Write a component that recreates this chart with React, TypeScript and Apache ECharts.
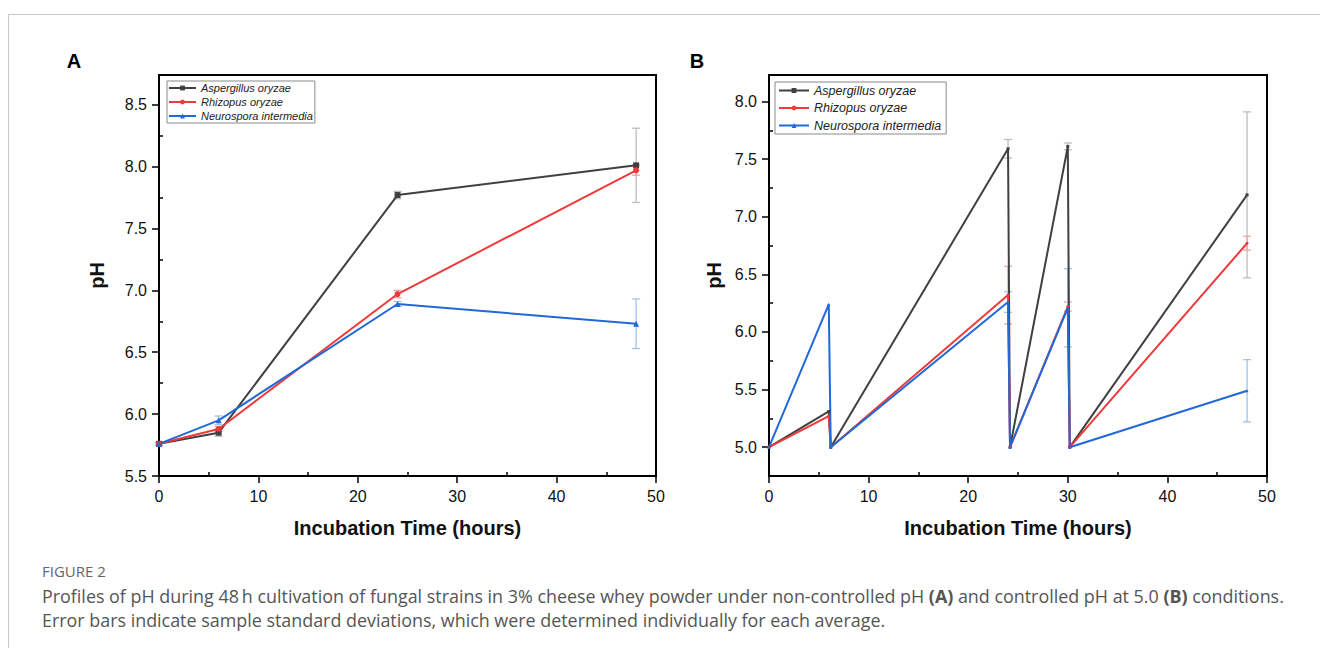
import React, { useEffect, useRef } from 'react';
import * as echarts from 'echarts';

const seriesNames = ['Aspergillus oryzae', 'Rhizopus oryzae', 'Neurospora intermedia'];
const lineColors = ['#404040', '#ee3a3a', '#2168d8'];
const errColors = ['#bdbdbd', '#f2a5a5', '#a0c2ee'];
const symbols = ['rect', 'circle', 'triangle'];

// Panel A: non-controlled pH
const timeA = [0, 6, 24, 48];
const aspA = [5.76, 5.85, 7.77, 8.01];
const aspAErr = [0.01, 0.03, 0.03, 0.3];
const rhiA = [5.76, 5.88, 6.97, 7.97];
const rhiAErr = [0.01, 0.02, 0.03, 0.04];
const neuA = [5.76, 5.95, 6.89, 6.73];
const neuAErr = [0.01, 0.035, 0.02, 0.2];

// Panel B: controlled pH at 5.0
const timeB = [0, 6, 6.2, 24, 24.2, 30, 30.2, 48];
const aspB = [5.0, 5.31, 5.0, 7.59, 5.0, 7.61, 5.0, 7.19];
const aspBErr = [0, 0, 0, 0.08, 0, 0.03, 0, 0.72];
const rhiB = [5.0, 5.27, 5.0, 6.32, 5.0, 6.22, 5.0, 6.77];
const rhiBErr = [0, 0, 0, 0.25, 0, 0.04, 0, 0.06];
const neuB = [5.0, 6.24, 5.0, 6.26, 5.0, 6.21, 5.0, 5.49];
const neuBErr = [0, 0, 0, 0.09, 0, 0.34, 0, 0.27];

const xMinorTicks = [5, 15, 25, 35, 45];
const yTicksA = [5.5, 6.0, 6.5, 7.0, 7.5, 8.0, 8.5];
const yMinorA = [5.75, 6.25, 6.75, 7.25, 7.75, 8.25];
const yTicksB = [5.0, 5.5, 6.0, 6.5, 7.0, 7.5, 8.0];
const yMinorB = [5.25, 5.75, 6.25, 6.75, 7.25, 7.75];

const FONT = '"Liberation Sans", Arial, sans-serif';
const CAP_FONT = '"Open Sans", sans-serif';

function lineSeries(name: string, xs: number[], ys: number[], idx: number, axis: number, size: number) {
  return {
    type: 'line',
    name,
    xAxisIndex: axis,
    yAxisIndex: axis,
    data: xs.map((x, i) => [x, ys[i]]),
    symbol: symbols[idx],
    symbolSize: size,
    showSymbol: true,
    lineStyle: { color: lineColors[idx], width: 2 },
    itemStyle: { color: lineColors[idx] },
    z: 3,
  };
}

function errSeries(xs: number[], ys: number[], es: number[], idx: number, axis: number) {
  const color = errColors[idx];
  return {
    type: 'custom',
    xAxisIndex: axis,
    yAxisIndex: axis,
    silent: true,
    z: 2,
    encode: { x: 0, y: 1 },
    data: xs.map((x, i) => [x, ys[i], es[i]]).filter((d) => d[2] > 0),
    renderItem: (_p: any, api: any) => {
      const x = api.value(0);
      const y = api.value(1);
      const e = api.value(2);
      const t = api.coord([x, y + e]);
      const b = api.coord([x, y - e]);
      const w = 4;
      const st = { stroke: color, lineWidth: 1.3 };
      return {
        type: 'group',
        children: [
          { type: 'line', shape: { x1: t[0], y1: t[1], x2: b[0], y2: b[1] }, style: st },
          { type: 'line', shape: { x1: t[0] - w, y1: t[1], x2: t[0] + w, y2: t[1] }, style: st },
          { type: 'line', shape: { x1: b[0] - w, y1: b[1], x2: b[0] + w, y2: b[1] }, style: st },
        ],
      };
    },
  };
}

function mainX(grid: number) {
  return {
    type: 'value',
    gridIndex: grid,
    position: 'bottom',
    min: 0,
    max: 50,
    interval: 10,
    name: 'Incubation Time (hours)',
    nameLocation: 'middle',
    nameGap: 42,
    nameTextStyle: { fontFamily: FONT, fontSize: 20, fontWeight: 'bold', color: '#111' },
    axisLine: { show: true, onZero: false, lineStyle: { color: '#000', width: 2 } },
    axisTick: { show: true, inside: false, length: 7, lineStyle: { color: '#000', width: 1.5 } },
    axisLabel: { fontFamily: FONT, fontSize: 16, color: '#111', margin: 12 },
    splitLine: { show: false },
  };
}

function minorX(grid: number) {
  return {
    type: 'value',
    gridIndex: grid,
    position: 'bottom',
    min: 0,
    max: 50,
    axisLine: { show: false, onZero: false },
    axisTick: { show: true, inside: true, length: 4, customValues: xMinorTicks, lineStyle: { color: '#000', width: 1.5 } },
    axisLabel: { show: false },
    splitLine: { show: false },
  };
}

function mainY(grid: number, min: number, max: number, ticks: number[], gap: number) {
  return {
    type: 'value',
    gridIndex: grid,
    position: 'left',
    min,
    max,
    name: 'pH',
    nameLocation: 'middle',
    nameGap: gap,
    nameTextStyle: { fontFamily: FONT, fontSize: 20, fontWeight: 'bold', color: '#111' },
    axisLine: { show: true, onZero: false, lineStyle: { color: '#000', width: 2 } },
    axisTick: { show: true, inside: false, length: 7, customValues: ticks, lineStyle: { color: '#000', width: 1.5 } },
    axisLabel: {
      fontFamily: FONT,
      fontSize: 16,
      color: '#111',
      margin: 12,
      customValues: ticks,
      formatter: (v: number) => v.toFixed(1),
    },
    splitLine: { show: false },
  };
}

function minorY(grid: number, min: number, max: number, ticks: number[]) {
  return {
    type: 'value',
    gridIndex: grid,
    position: 'left',
    min,
    max,
    axisLine: { show: false, onZero: false },
    axisTick: { show: true, inside: true, length: 4, customValues: ticks, lineStyle: { color: '#000', width: 1.5 } },
    axisLabel: { show: false },
    splitLine: { show: false },
  };
}

export default function App() {
  const ref = useRef<HTMLDivElement>(null);
  useEffect(() => {
    document.body.style.margin = '0';
    if (!ref.current) return;
    const chart = echarts.init(ref.current, undefined, { renderer: 'svg' });
    const option: any = {
      animation: false,
      backgroundColor: '#fff',
      grid: [
        { left: 159, top: 75, width: 497, height: 401, show: true, borderColor: '#000', borderWidth: 2, backgroundColor: 'transparent' },
        { left: 769, top: 75, width: 498, height: 401, show: true, borderColor: '#000', borderWidth: 2, backgroundColor: 'transparent' },
      ],
      xAxis: [mainX(0), minorX(0), mainX(1), minorX(1)],
      yAxis: [
        mainY(0, 5.5, 8.74, yTicksA, 52),
        minorY(0, 5.5, 8.74, yMinorA),
        mainY(1, 4.75, 8.23, yTicksB, 45),
        minorY(1, 4.75, 8.23, yMinorB),
      ],
      legend: [
        {
          orient: 'vertical',
          left: 167,
          top: 81,
          data: seriesNames,
          itemWidth: 27,
          itemHeight: 6,
          itemGap: 3,
          padding: [1.5, 2, 1.5, 1],
          borderColor: '#8a8a8a',
          borderWidth: 1,
          selectedMode: false,
          textStyle: { fontFamily: FONT, fontSize: 11, fontStyle: 'italic', color: '#222' },
        },
        {
          orient: 'vertical',
          left: 775,
          top: 82,
          data: seriesNames,
          itemWidth: 30,
          itemHeight: 6,
          itemGap: 4.5,
          padding: [2, 5, 2, 3],
          borderColor: '#8a8a8a',
          borderWidth: 1,
          selectedMode: false,
          textStyle: { fontFamily: FONT, fontSize: 12.5, fontStyle: 'italic', color: '#222' },
        },
      ],
      series: [
        errSeries(timeA, aspA, aspAErr, 0, 0),
        errSeries(timeA, rhiA, rhiAErr, 1, 0),
        errSeries(timeA, neuA, neuAErr, 2, 0),
        lineSeries(seriesNames[0], timeA, aspA, 0, 0, 6),
        lineSeries(seriesNames[1], timeA, rhiA, 1, 0, 6),
        lineSeries(seriesNames[2], timeA, neuA, 2, 0, 6),
        errSeries(timeB, aspB, aspBErr, 0, 2),
        errSeries(timeB, rhiB, rhiBErr, 1, 2),
        errSeries(timeB, neuB, neuBErr, 2, 2),
        lineSeries(seriesNames[0], timeB, aspB, 0, 2, 3),
        lineSeries(seriesNames[1], timeB, rhiB, 1, 2, 3),
        lineSeries(seriesNames[2], timeB, neuB, 2, 2, 3),
      ],
      graphic: [
        {
          type: 'rect',
          silent: true,
          shape: { x: 8.5, y: 14.5, width: 1400, height: 700 },
          style: { fill: 'none', stroke: '#c8c8c8', lineWidth: 1 },
        },
        {
          type: 'text',
          x: 74,
          y: 61,
          style: { text: 'A', font: `bold 20px ${FONT}`, fill: '#000', align: 'center', verticalAlign: 'middle' },
        },
        {
          type: 'text',
          x: 697,
          y: 61,
          style: { text: 'B', font: `bold 20px ${FONT}`, fill: '#000', align: 'center', verticalAlign: 'middle' },
        },
        {
          type: 'text',
          x: 42,
          y: 571,
          style: { text: 'FIGURE 2', font: `15px ${CAP_FONT}`, fill: '#666', verticalAlign: 'middle' },
        },
        {
          type: 'text',
          x: 42,
          y: 596,
          style: {
            text: 'Profiles of pH during 48\u2009h cultivation of fungal strains in 3% cheese whey powder under non-controlled pH {b|(A)} and controlled pH at 5.0 {b|(B)} conditions.',
            font: `17.9px ${CAP_FONT}`,
            fill: '#555',
            verticalAlign: 'middle',
            rich: { b: { fontWeight: 'bold', fontSize: 17.9, fontFamily: CAP_FONT, fill: '#555' } },
          },
        },
        {
          type: 'text',
          x: 42,
          y: 620,
          style: {
            text: 'Error bars indicate sample standard deviations, which were determined individually for each average.',
            font: `17.9px ${CAP_FONT}`,
            fill: '#555',
            verticalAlign: 'middle',
          },
        },
      ],
    };
    chart.setOption(option);
    return () => chart.dispose();
  }, []);
  return <div ref={ref} style={{ width: 1320, height: 648 }} />;
}
